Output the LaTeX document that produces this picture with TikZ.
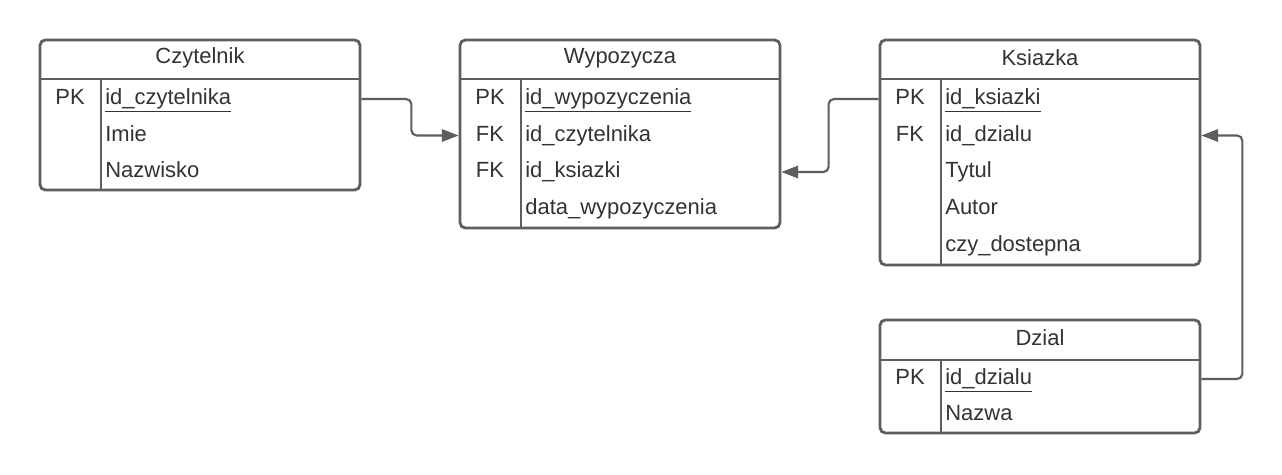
\documentclass[tikz,border=0pt]{standalone}
\usepackage{fontspec}
\setmainfont{Liberation Sans}
\usetikzlibrary{arrows.meta, positioning}
\definecolor{linegray}{RGB}{94,94,94}
\definecolor{textgray}{RGB}{51,51,51}

\begin{document}
\begin{tikzpicture}[
  x=0.02cm, y=-0.02cm,
  font=\fontsize{12.5}{15}\selectfont, text=textgray,
  tablebox/.style={draw=linegray, line width=1.6pt, rounded corners=3pt,
                   minimum width=6.4cm, inner sep=0pt},
  tableline/.style={draw=linegray, line width=1.6pt},
  title/.style={anchor=center, inner sep=0pt},
  keycell/.style={anchor=center, inner sep=0pt, text height=9pt, text depth=2.5pt},
  fieldcell/.style={anchor=west, inner sep=0pt, text height=9pt, text depth=2.5pt},
  relation/.style={-{Triangle[length=9.5pt, width=7pt]}, draw=linegray,
                   line width=1.2pt, rounded corners=3pt}
]
  \fill[white] (0,0) rectangle (1282,474);
  \useasboundingbox (0,0) rectangle (1282,474);

  \node[tablebox, minimum height=3cm] (cz-box) at (200,115) {};
  \node[title] (cz-title) at (200,58) {Czytelnik};
  \draw[tableline] (40,79) -- (360,79);
  \draw[tableline] (101,79) -- (101,190);
  \node[keycell] (cz-k1) at (70,99) {PK};
  \node[fieldcell] (cz-f1) at (105,99) {\underline{id\_czytelnika}};
  \node[fieldcell] (cz-f2) at (105,135.5) {Imie};
  \node[fieldcell] (cz-f3) at (105,172) {Nazwisko};

  \node[tablebox, minimum height=3.76cm] (wy-box) at (620,134) {};
  \node[title] (wy-title) at (620,58) {Wypozycza};
  \draw[tableline] (460,79) -- (780,79);
  \draw[tableline] (521,79) -- (521,228);
  \node[keycell] (wy-k1) at (490,99) {PK};
  \node[keycell] (wy-k2) at (490,135.5) {FK};
  \node[keycell] (wy-k3) at (490,172) {FK};
  \node[fieldcell] (wy-f1) at (525,99) {\underline{id\_wypozyczenia}};
  \node[fieldcell] (wy-f2) at (525,135.5) {id\_czytelnika};
  \node[fieldcell] (wy-f3) at (525,172) {id\_ksiazki};
  \node[fieldcell] (wy-f4) at (525,209) {data\_wypozyczenia};

  \node[tablebox, minimum height=4.5cm] (ks-box) at (1040,152.5) {};
  \node[title] (ks-title) at (1040,58) {Ksiazka};
  \draw[tableline] (880,79) -- (1200,79);
  \draw[tableline] (941,79) -- (941,265);
  \node[keycell] (ks-k1) at (910,99) {PK};
  \node[keycell] (ks-k2) at (910,135.5) {FK};
  \node[fieldcell] (ks-f1) at (945,99) {\underline{id\_ksiazki}};
  \node[fieldcell] (ks-f2) at (945,135.5) {id\_dzialu};
  \node[fieldcell] (ks-f3) at (945,172) {Tytul};
  \node[fieldcell] (ks-f4) at (945,209) {Autor};
  \node[fieldcell] (ks-f5) at (945,246) {czy\_dostepna};

  \node[tablebox, minimum height=2.26cm] (dz-box) at (1040,376.5) {};
  \node[title] (dz-title) at (1040,338) {Dzial};
  \draw[tableline] (880,360) -- (1200,360);
  \draw[tableline] (941,360) -- (941,433);
  \node[keycell] (dz-k1) at (910,379) {PK};
  \node[fieldcell] (dz-f1) at (945,379) {\underline{id\_dzialu}};
  \node[fieldcell] (dz-f2) at (945,415) {Nazwa};

  \draw[relation] (cz-box.east |- cz-f1) -- ++(50,0) |- (wy-box.west |- wy-f2);
  \draw[relation] (ks-box.west |- ks-f1) -- ++(-50,0) |- (wy-box.east |- wy-f3);
  \draw[relation] (dz-box.east |- dz-f1) -- ++(41,0) |- (ks-box.east |- ks-f2);
\end{tikzpicture}
\end{document}
